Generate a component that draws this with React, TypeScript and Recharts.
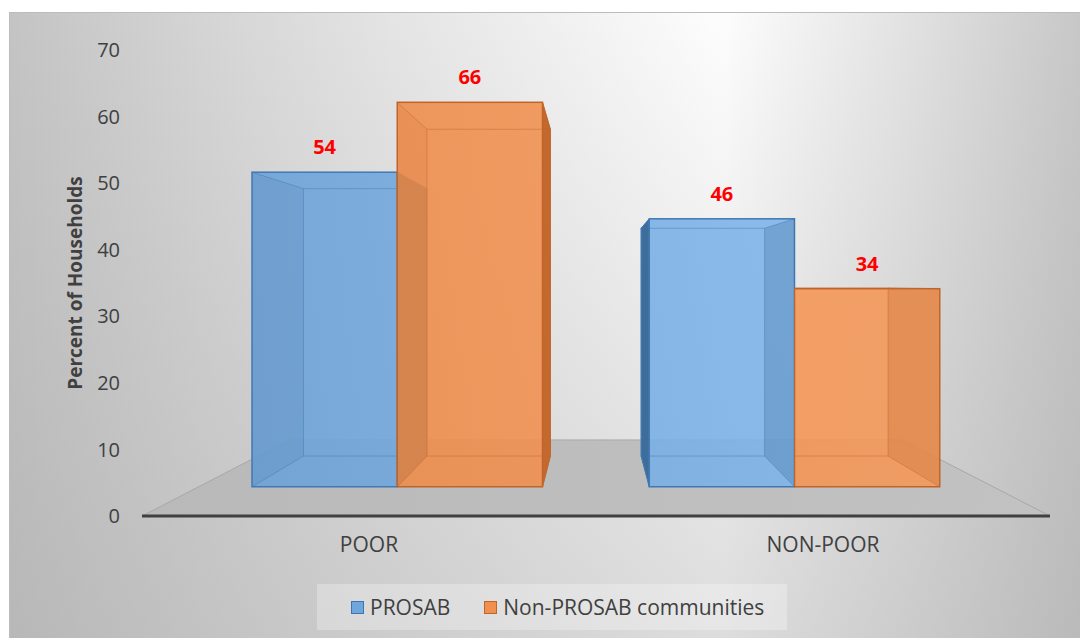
import React from "react";
import { BarChart, Bar, XAxis, YAxis, Legend, LabelList } from "recharts";

// values
const categories = ["POOR", "NON-POOR"];
const prosab = [54, 46];
const nonProsab = [66, 34];
const yTicks = [0, 10, 20, 30, 40, 50, 60, 70];
const seriesNames = ["PROSAB", "Non-PROSAB communities"];

const data = categories.map((name, i) => ({
  name,
  PROSAB: prosab[i],
  "Non-PROSAB communities": nonProsab[i],
}));

// fake 3D: every face is the axis-plane rect pulled toward a vanishing point
const VPX = 595;
const VPY = 282;
const FRONT = 0.875;
const DEPTH = 0.85;
const FLOOR = 0.675;
const PLOT_L = 142;
const PLOT_R = 1050;
const PLOT_B = 516;

const px = (v: number, s: number) => VPX + (v - VPX) * s;
const py = (v: number, s: number) => VPY + (v - VPY) * s;

const TEXT = "#404040";

const makeBox =
  (front: string, side: string, edge: string, second: boolean) =>
  (props: any) => {
    const { x, y, width, height, index } = props;
    const x0 = px(x, FRONT);
    const x1 = px(x + width, FRONT);
    const y0 = py(y, FRONT);
    const y1 = py(y + height, FRONT);
    const bx0 = px(x0, DEPTH);
    const bx1 = px(x1, DEPTH);
    const by0 = py(y0, DEPTH);
    const by1 = py(y1, DEPTH);
    const clip = second && x0 > VPX;
    const id = `clip-${second ? "b" : "a"}-${index}`;
    return (
      <g clipPath={clip ? `url(#${id})` : undefined}>
        {clip && (
          <defs>
            <clipPath id={id}>
              <rect x={x0 - 0.5} y={0} width={2000} height={2000} />
            </clipPath>
          </defs>
        )}
        {bx0 < x0 && (
          <polygon
            points={`${x0},${y0} ${bx0},${by0} ${bx0},${by1} ${x0},${y1}`}
            fill={side}
            stroke={edge}
            strokeWidth={1}
          />
        )}
        {bx1 > x1 && (
          <polygon
            points={`${x1},${y0} ${bx1},${by0} ${bx1},${by1} ${x1},${y1}`}
            fill={side}
            stroke={edge}
            strokeWidth={1}
          />
        )}
        <rect
          x={x0}
          y={y0}
          width={x1 - x0}
          height={y1 - y0}
          fill={front}
          fillOpacity={0.88}
          stroke={edge}
          strokeWidth={1.5}
        />
        {bx0 > x0 && (
          <polygon
            points={`${x0},${y0} ${bx0},${by0} ${bx0},${by1} ${x0},${y1}`}
            fill={side}
            fillOpacity={0.12}
          />
        )}
        {bx1 < x1 && (
          <polygon
            points={`${x1},${y0} ${bx1},${by0} ${bx1},${by1} ${x1},${y1}`}
            fill={side}
            fillOpacity={0.3}
          />
        )}
        <g stroke={edge} strokeOpacity={0.45} strokeWidth={1} fill="none">
          <rect x={bx0} y={by0} width={bx1 - bx0} height={by1 - by0} />
          <line x1={x0} y1={y0} x2={bx0} y2={by0} />
          <line x1={x1} y1={y0} x2={bx1} y2={by0} />
          <line x1={x0} y1={y1} x2={bx0} y2={by1} />
          <line x1={x1} y1={y1} x2={bx1} y2={by1} />
        </g>
      </g>
    );
  };

const renderValue = (props: any) => {
  const vb = props.viewBox && props.viewBox.width != null ? props.viewBox : props;
  const cx = px(vb.x + vb.width / 2, FRONT);
  const top = py(Math.min(vb.y, vb.y + vb.height), FRONT);
  return (
    <text
      x={cx}
      y={top - 18}
      textAnchor="middle"
      fill="#ff0000"
      fontWeight="bold"
      fontSize={20}
    >
      {props.value}
    </text>
  );
};

const legendBorder: Record<string, string> = {
  PROSAB: "#3f74b0",
  "Non-PROSAB communities": "#c0652a",
};

const renderLegend = (props: any) => {
  const payload = props.payload || [];
  const items = seriesNames.map((name) => {
    const hit = payload.find((p: any) => p.value === name || p.dataKey === name);
    return { value: name, color: hit ? hit.color : "#999" };
  });
  return (
    <div
      style={{
        width: 470,
        height: 46,
        background: "rgba(255,255,255,0.28)",
        display: "flex",
        alignItems: "center",
        paddingLeft: 34,
        boxSizing: "border-box",
        fontSize: 21,
        color: TEXT,
        whiteSpace: "nowrap",
      }}
    >
      {items.map((it) => (
        <span
          key={it.value}
          style={{ display: "flex", alignItems: "center", marginRight: 34 }}
        >
          <span
            style={{
              width: 11,
              height: 11,
              background: it.color,
              border: `1.5px solid ${legendBorder[it.value]}`,
              marginRight: 6,
              display: "inline-block",
            }}
          />
          {it.value}
        </span>
      ))}
    </div>
  );
};

const floorPts = [
  [PLOT_L, PLOT_B],
  [PLOT_R, PLOT_B],
  [px(PLOT_R, FLOOR), py(PLOT_B, FLOOR)],
  [px(PLOT_L, FLOOR), py(PLOT_B, FLOOR)],
]
  .map((p) => p.join(","))
  .join(" ");

export default function App() {
  return (
    <div
      style={{
        position: "absolute",
        left: 0,
        top: 0,
        width: 1080,
        height: 638,
        overflow: "hidden",
        fontFamily: "'Open Sans', sans-serif",
        background: "#fff",
      }}
    >
      <svg
        width={1080}
        height={638}
        style={{ position: "absolute", left: 0, top: 0 }}
      >
        <defs>
          <linearGradient id="bgH" x1="0" y1="0" x2="1" y2="0">
            <stop offset="0" stopColor="#c4c4c4" />
            <stop offset="0.35" stopColor="#e4e4e4" />
            <stop offset="0.66" stopColor="#fdfdfd" />
            <stop offset="0.82" stopColor="#e4e4e4" />
            <stop offset="1" stopColor="#c6c6c6" />
          </linearGradient>
          <linearGradient id="bgV" x1="0" y1="0" x2="0" y2="1">
            <stop offset="0" stopColor="#a0a0a0" stopOpacity={0} />
            <stop offset="1" stopColor="#a0a0a0" stopOpacity={0.35} />
          </linearGradient>
          <linearGradient id="floorG" x1="0" y1="0" x2="1" y2="0">
            <stop offset="0" stopColor="#b9b9b9" />
            <stop offset="1" stopColor="#c2c2c2" />
          </linearGradient>
        </defs>
        <rect x={9.5} y={12.5} width={1080} height={640} fill="url(#bgH)" />
        <rect x={9.5} y={12.5} width={1080} height={640} fill="url(#bgV)" />
        <rect
          x={9.5}
          y={12.5}
          width={1080}
          height={640}
          fill="none"
          stroke="#bcbcbc"
        />
        <polygon
          points={floorPts}
          fill="url(#floorG)"
          stroke="#a8a8a8"
          strokeWidth={1}
        />
      </svg>
      <div style={{ position: "absolute", left: 0, top: 0 }}>
        <BarChart
          width={1080}
          height={638}
          data={data}
          margin={{ top: 50, right: 30, bottom: 92, left: 0 }}
          barGap={0}
          barSize={166}
        >
          <defs>
            <linearGradient
              id="blueG"
              gradientUnits="userSpaceOnUse"
              x1="250"
              y1="0"
              x2="800"
              y2="0"
            >
              <stop offset="0" stopColor="#6aa1d7" />
              <stop offset="1" stopColor="#7db4ea" />
            </linearGradient>
            <linearGradient
              id="orangeG"
              gradientUnits="userSpaceOnUse"
              x1="400"
              y1="0"
              x2="940"
              y2="0"
            >
              <stop offset="0" stopColor="#ef8c4a" />
              <stop offset="1" stopColor="#f69858" />
            </linearGradient>
          </defs>
          <XAxis
            dataKey="name"
            height={30}
            axisLine={{ stroke: "#404040", strokeWidth: 3 }}
            tickLine={false}
            tickSize={6}
            tickMargin={15}
            tick={{ fill: TEXT, fontSize: 21 }}
          />
          <YAxis
            width={142}
            domain={[0, 70]}
            ticks={yTicks}
            axisLine={false}
            tickLine={false}
            tickSize={6}
            tickMargin={16}
            tick={{ fill: TEXT, fontSize: 20 }}
            label={(p: any) => {
              const vb = p.viewBox || { x: 0, y: 50, width: 142, height: 466 };
              const cx = vb.x + 75;
              const cy = vb.y + vb.height / 2;
              return (
                <text
                  x={cx}
                  y={cy}
                  transform={`rotate(-90 ${cx} ${cy})`}
                  textAnchor="middle"
                  dominantBaseline="central"
                  fontWeight="bold"
                  fontSize={19}
                  fill={TEXT}
                >
                  Percent of Households
                </text>
              );
            }}
          />
          <Legend
            layout="horizontal"
            verticalAlign="middle"
            align="center"
            content={renderLegend}
            wrapperStyle={{ left: 317, top: 584, width: 470, height: 46 }}
          />
          <Bar
            dataKey="PROSAB"
            fill="#6fa6dc"
            isAnimationActive={false}
            shape={makeBox("url(#blueG)", "#3e6c9b", "#4178b4", false)}
          >
            <LabelList dataKey="PROSAB" content={renderValue} />
          </Bar>
          <Bar
            dataKey="Non-PROSAB communities"
            fill="#f0904f"
            isAnimationActive={false}
            shape={makeBox("url(#orangeG)", "#c4692d", "#c0652a", true)}
          >
            <LabelList dataKey="Non-PROSAB communities" content={renderValue} />
          </Bar>
        </BarChart>
      </div>
    </div>
  );
}
